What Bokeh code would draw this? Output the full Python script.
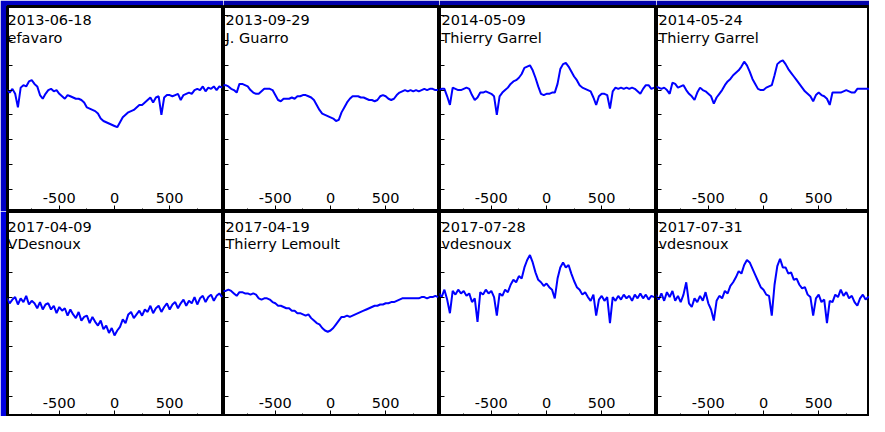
from bokeh.plotting import figure
from bokeh.layouts import column, row
from bokeh.models import LinearAxis, FixedTicker, Range1d, Label, CustomJSTickFormatter
from bokeh.embed import file_html
from bokeh.resources import INLINE

# ---------------- data ----------------
velocity = [-975, -950, -925, -900, -875, -850, -825, -800, -775, -750,
            -725, -700, -675, -650, -625, -600, -575, -550, -525, -500,
            -475, -450, -425, -400, -375, -350, -325, -300, -275, -250,
            -225, -200, -175, -150, -125, -100, -75, -50, -25, 0,
            25, 50, 75, 100, 125, 150, 175, 200, 225, 250,
            275, 300, 325, 350, 375, 400, 425, 450, 475, 500,
            525, 550, 575, 600, 625, 650, 675, 700, 725, 750,
            775, 800, 825, 850, 875, 900, 925, 950, 975]

dates = ["2013-06-18", "2013-09-29", "2014-05-09", "2014-05-24",
         "2017-04-09", "2017-04-19", "2017-07-28", "2017-07-31"]
observers = ["efavaro", "J. Guarro", "Thierry Garrel", "Thierry Garrel",
             "VDesnoux", "Thierry Lemoult", "vdesnoux", "vdesnoux"]

flux_2013_06_18 = [1.00, 0.98, 1.01, 0.97, 0.86, 1.02, 1.04, 1.03, 1.07, 1.08,
                   1.05, 1.03, 0.96, 0.93, 0.97, 1.00, 1.01, 0.99, 1.00, 0.97,
                   0.95, 0.93, 0.96, 0.95, 0.94, 0.93, 0.93, 0.92, 0.90, 0.86,
                   0.85, 0.84, 0.83, 0.81, 0.77, 0.75, 0.74, 0.73, 0.72, 0.71,
                   0.70, 0.74, 0.78, 0.80, 0.82, 0.83, 0.84, 0.86, 0.88, 0.88,
                   0.90, 0.92, 0.94, 0.90, 0.94, 0.95, 0.80, 0.94, 0.96, 0.96,
                   0.95, 0.96, 0.97, 0.92, 0.96, 0.97, 0.98, 0.97, 1.00, 1.01,
                   1.00, 1.03, 0.99, 1.02, 1.01, 1.03, 1.00, 1.03, 1.02]
flux_2013_09_29 = [1.04, 1.04, 1.03, 1.01, 1.00, 0.98, 1.05, 1.05, 1.04, 1.03,
                   1.00, 0.98, 0.97, 0.97, 0.99, 1.01, 1.01, 1.01, 1.00, 0.96,
                   0.92, 0.91, 0.93, 0.93, 0.93, 0.94, 0.93, 0.95, 0.95, 0.96,
                   0.96, 0.95, 0.94, 0.92, 0.88, 0.84, 0.81, 0.80, 0.79, 0.78,
                   0.77, 0.75, 0.76, 0.82, 0.86, 0.90, 0.93, 0.95, 0.95, 0.95,
                   0.94, 0.94, 0.93, 0.92, 0.92, 0.91, 0.92, 0.95, 0.96, 0.95,
                   0.93, 0.92, 0.93, 0.96, 0.98, 0.99, 1.00, 0.99, 1.00, 0.99,
                   1.00, 0.99, 1.00, 1.01, 1.00, 1.01, 1.01, 1.00, 1.00]
flux_2014_05_09 = [1.00, 1.01, 1.01, 0.95, 0.88, 1.02, 1.01, 1.00, 1.00, 1.01,
                   1.02, 1.01, 0.96, 0.92, 0.94, 0.98, 0.98, 0.99, 0.98, 0.97,
                   0.95, 0.80, 0.95, 0.98, 1.00, 1.02, 1.05, 1.07, 1.08, 1.10,
                   1.13, 1.18, 1.19, 1.20, 1.16, 1.10, 1.03, 0.97, 0.96, 0.97,
                   0.97, 0.98, 0.98, 1.05, 1.17, 1.21, 1.22, 1.19, 1.15, 1.11,
                   1.08, 1.04, 1.02, 1.01, 1.00, 0.99, 0.94, 0.88, 0.95, 0.97,
                   0.97, 0.96, 0.85, 0.99, 1.02, 1.01, 1.02, 1.01, 1.02, 1.01,
                   1.02, 1.01, 0.99, 0.97, 1.01, 1.04, 1.04, 1.01, 1.02]
flux_2014_05_24 = [1.03, 1.02, 1.01, 1.02, 1.00, 0.97, 1.06, 1.05, 1.02, 1.03,
                   1.04, 1.00, 0.97, 0.95, 0.92, 0.98, 1.02, 1.00, 0.99, 0.97,
                   0.95, 0.89, 0.94, 0.97, 1.00, 1.04, 1.07, 1.09, 1.12, 1.14,
                   1.16, 1.19, 1.23, 1.20, 1.15, 1.09, 1.05, 1.01, 1.00, 1.00,
                   1.02, 1.03, 1.04, 1.12, 1.21, 1.23, 1.24, 1.21, 1.17, 1.14,
                   1.11, 1.08, 1.05, 1.02, 0.99, 0.97, 0.95, 0.91, 0.96, 0.98,
                   0.96, 0.95, 0.93, 0.88, 0.98, 0.98, 0.98, 0.98, 0.99, 1.00,
                   0.99, 0.98, 0.98, 1.01, 1.01, 1.01, 1.01, 1.01, 1.00]
flux_2017_04_09 = [0.99, 0.95, 0.98, 1.00, 0.94, 0.99, 0.96, 1.01, 0.94, 0.97,
                   0.95, 0.91, 0.96, 0.90, 0.94, 0.95, 0.90, 0.93, 0.87, 0.92,
                   0.89, 0.91, 0.85, 0.90, 0.86, 0.83, 0.88, 0.81, 0.84, 0.85,
                   0.79, 0.84, 0.80, 0.77, 0.81, 0.74, 0.77, 0.71, 0.75, 0.69,
                   0.73, 0.76, 0.82, 0.79, 0.86, 0.88, 0.83, 0.86, 0.89, 0.85,
                   0.90, 0.88, 0.93, 0.87, 0.91, 0.93, 0.88, 0.92, 0.95, 0.90,
                   0.94, 0.96, 0.91, 0.95, 0.98, 0.93, 0.97, 0.95, 1.00, 0.94,
                   0.99, 1.01, 0.96, 1.00, 1.02, 0.97, 1.01, 1.03, 1.00]
flux_2017_04_19 = [1.05, 1.05, 1.06, 1.05, 1.03, 1.01, 1.04, 1.04, 1.03, 1.03,
                   1.02, 1.03, 1.02, 0.99, 0.98, 0.99, 0.99, 0.98, 0.96, 0.95,
                   0.93, 0.93, 0.92, 0.91, 0.91, 0.89, 0.89, 0.87, 0.87, 0.86,
                   0.85, 0.86, 0.83, 0.81, 0.79, 0.78, 0.75, 0.73, 0.72, 0.73,
                   0.75, 0.78, 0.81, 0.84, 0.84, 0.85, 0.84, 0.85, 0.86, 0.87,
                   0.88, 0.89, 0.90, 0.91, 0.92, 0.93, 0.93, 0.94, 0.94, 0.95,
                   0.95, 0.96, 0.96, 0.97, 0.98, 0.99, 0.99, 0.99, 0.99, 0.99,
                   0.99, 0.99, 1.00, 1.00, 0.99, 1.00, 1.00, 1.01, 1.00]
flux_2017_07_28 = [1.03, 1.00, 1.06, 0.98, 0.87, 1.05, 1.02, 1.06, 1.03, 1.05,
                   1.01, 1.03, 0.96, 0.99, 0.80, 1.04, 1.02, 1.06, 1.03, 1.05,
                   1.00, 0.85, 1.03, 1.01, 1.06, 1.04, 1.10, 1.14, 1.12, 1.17,
                   1.15, 1.24, 1.30, 1.34, 1.28, 1.20, 1.14, 1.12, 1.09, 1.11,
                   1.08, 1.06, 0.99, 1.15, 1.24, 1.28, 1.24, 1.26, 1.19, 1.13,
                   1.08, 1.06, 1.02, 1.04, 1.00, 0.97, 1.02, 0.85, 0.98, 1.01,
                   0.97, 1.00, 0.79, 1.00, 0.97, 1.01, 0.98, 1.02, 0.99, 1.01,
                   0.97, 1.02, 0.99, 1.03, 0.99, 1.02, 0.98, 1.01, 1.00]
flux_2017_07_31 = [1.02, 0.98, 1.03, 0.97, 1.04, 1.00, 1.05, 0.97, 1.01, 0.96,
                   1.02, 1.12, 0.95, 0.92, 0.99, 0.96, 1.01, 0.97, 1.04, 0.95,
                   0.90, 0.81, 0.97, 1.01, 0.99, 1.05, 1.03, 1.09, 1.12, 1.16,
                   1.21, 1.19, 1.26, 1.30, 1.28, 1.23, 1.18, 1.13, 1.08, 1.06,
                   1.02, 1.01, 0.85, 1.10, 1.25, 1.31, 1.24, 1.24, 1.19, 1.20,
                   1.14, 1.15, 1.10, 1.07, 1.08, 1.02, 1.00, 0.85, 0.99, 1.02,
                   0.96, 0.98, 0.79, 0.97, 0.96, 1.02, 1.00, 1.06, 1.01, 1.04,
                   0.99, 1.01, 0.96, 0.93, 0.99, 1.02, 0.98, 1.00, 1.01]

spectra = [flux_2013_06_18, flux_2013_09_29, flux_2014_05_09, flux_2014_05_24,
           flux_2017_04_09, flux_2017_04_19, flux_2017_07_28, flux_2017_07_31]

x_ticks = [-500, 0, 500]
x_tick_labels = ["-500", "0", "500"]
x_minor_ticks = [-750, -250, 250, 750]
y_ticks = [0.2, 0.4, 0.6, 0.8, 1.0, 1.2, 1.4, 1.6]

# ---------------- layout / style ----------------
UNITS_PER_PX_X = 9.06
PX_PER_UNIT_Y = 123.7
ZERO_PX = 107.0
fig_w = [223, 216, 217, 213]
left_border = [7, 0, 0, 0]
fig_h = [211, 205]
top_border = [6, 0]
one_px = [83.6, 85.6]          # pixel distance from frame top to flux 1.0
date_base = [13.9, 15.3]
name_base = [31.7, 32.9]
text_dx = [0, 2, 2, 2]
border_colors = [["#0000C4", "#0000AA", "#0000AA", "#0000AA"],
                 ["#0000E0", "white", "white", "white"]]
FONT = "DejaVu Sans"
FS = "14.5px"

rows = []
for r in range(2):
    figs = []
    for c in range(4):
        i = r * 4 + c
        frame_w = fig_w[c] - left_border[c]
        frame_h = fig_h[r] - top_border[r]
        x0 = -ZERO_PX * UNITS_PER_PX_X
        x1 = x0 + frame_w * UNITS_PER_PX_X
        ytop = 1.0 + one_px[r] / PX_PER_UNIT_Y
        ybot = ytop - frame_h / PX_PER_UNIT_Y
        p = figure(width=fig_w[c], height=fig_h[r],
                   x_range=Range1d(x0, x1), y_range=Range1d(ybot, ytop),
                   x_axis_location=None, y_axis_location=None,
                   toolbar_location=None, output_backend="svg",
                   min_border=0, min_border_left=left_border[c], min_border_right=0,
                   min_border_top=top_border[r], min_border_bottom=0,
                   background_fill_color="white", border_fill_color=border_colors[r][c],
                   outline_line_color="black", outline_line_width=3)
        p.grid.visible = False

        xax = LinearAxis(fixed_location=ybot,
                         ticker=FixedTicker(ticks=x_ticks, minor_ticks=x_minor_ticks),
                         major_label_overrides=dict(zip(x_ticks, x_tick_labels)),
                         axis_line_color=None,
                         major_tick_in=0, major_tick_out=6,
                         minor_tick_in=0, minor_tick_out=3,
                         major_tick_line_color="black", minor_tick_line_color="black",
                         major_label_standoff=3,
                         major_label_text_font=FONT,
                         major_label_text_font_size=FS,
                         major_label_text_color="black")
        p.add_layout(xax, "above")

        yax = LinearAxis(fixed_location=x0,
                         ticker=FixedTicker(ticks=y_ticks),
                         formatter=CustomJSTickFormatter(code="return ''"),
                         axis_line_color=None,
                         major_tick_in=0, major_tick_out=5,
                         minor_tick_in=0, minor_tick_out=0,
                         major_tick_line_color="black",
                         major_label_standoff=0,
                         major_label_text_font_size="1px")
        p.add_layout(yax, "right")

        p.line(velocity, spectra[i], line_color="#0000FF", line_width=2)

        p.add_layout(Label(x=x0, y=ytop, x_units="data", y_units="data",
                           text=dates[i], x_offset=text_dx[c], y_offset=-date_base[r],
                           text_baseline="alphabetic", text_align="left",
                           text_font=FONT, text_font_size=FS, text_color="black"))
        p.add_layout(Label(x=x0, y=ytop, x_units="data", y_units="data",
                           text=observers[i], x_offset=text_dx[c], y_offset=-name_base[r],
                           text_baseline="alphabetic", text_align="left",
                           text_font=FONT, text_font_size=FS, text_color="black"))
        figs.append(p)
    rows.append(row(*figs))

layout = column(*rows)
open("out.html", "w").write(file_html(layout, INLINE))
